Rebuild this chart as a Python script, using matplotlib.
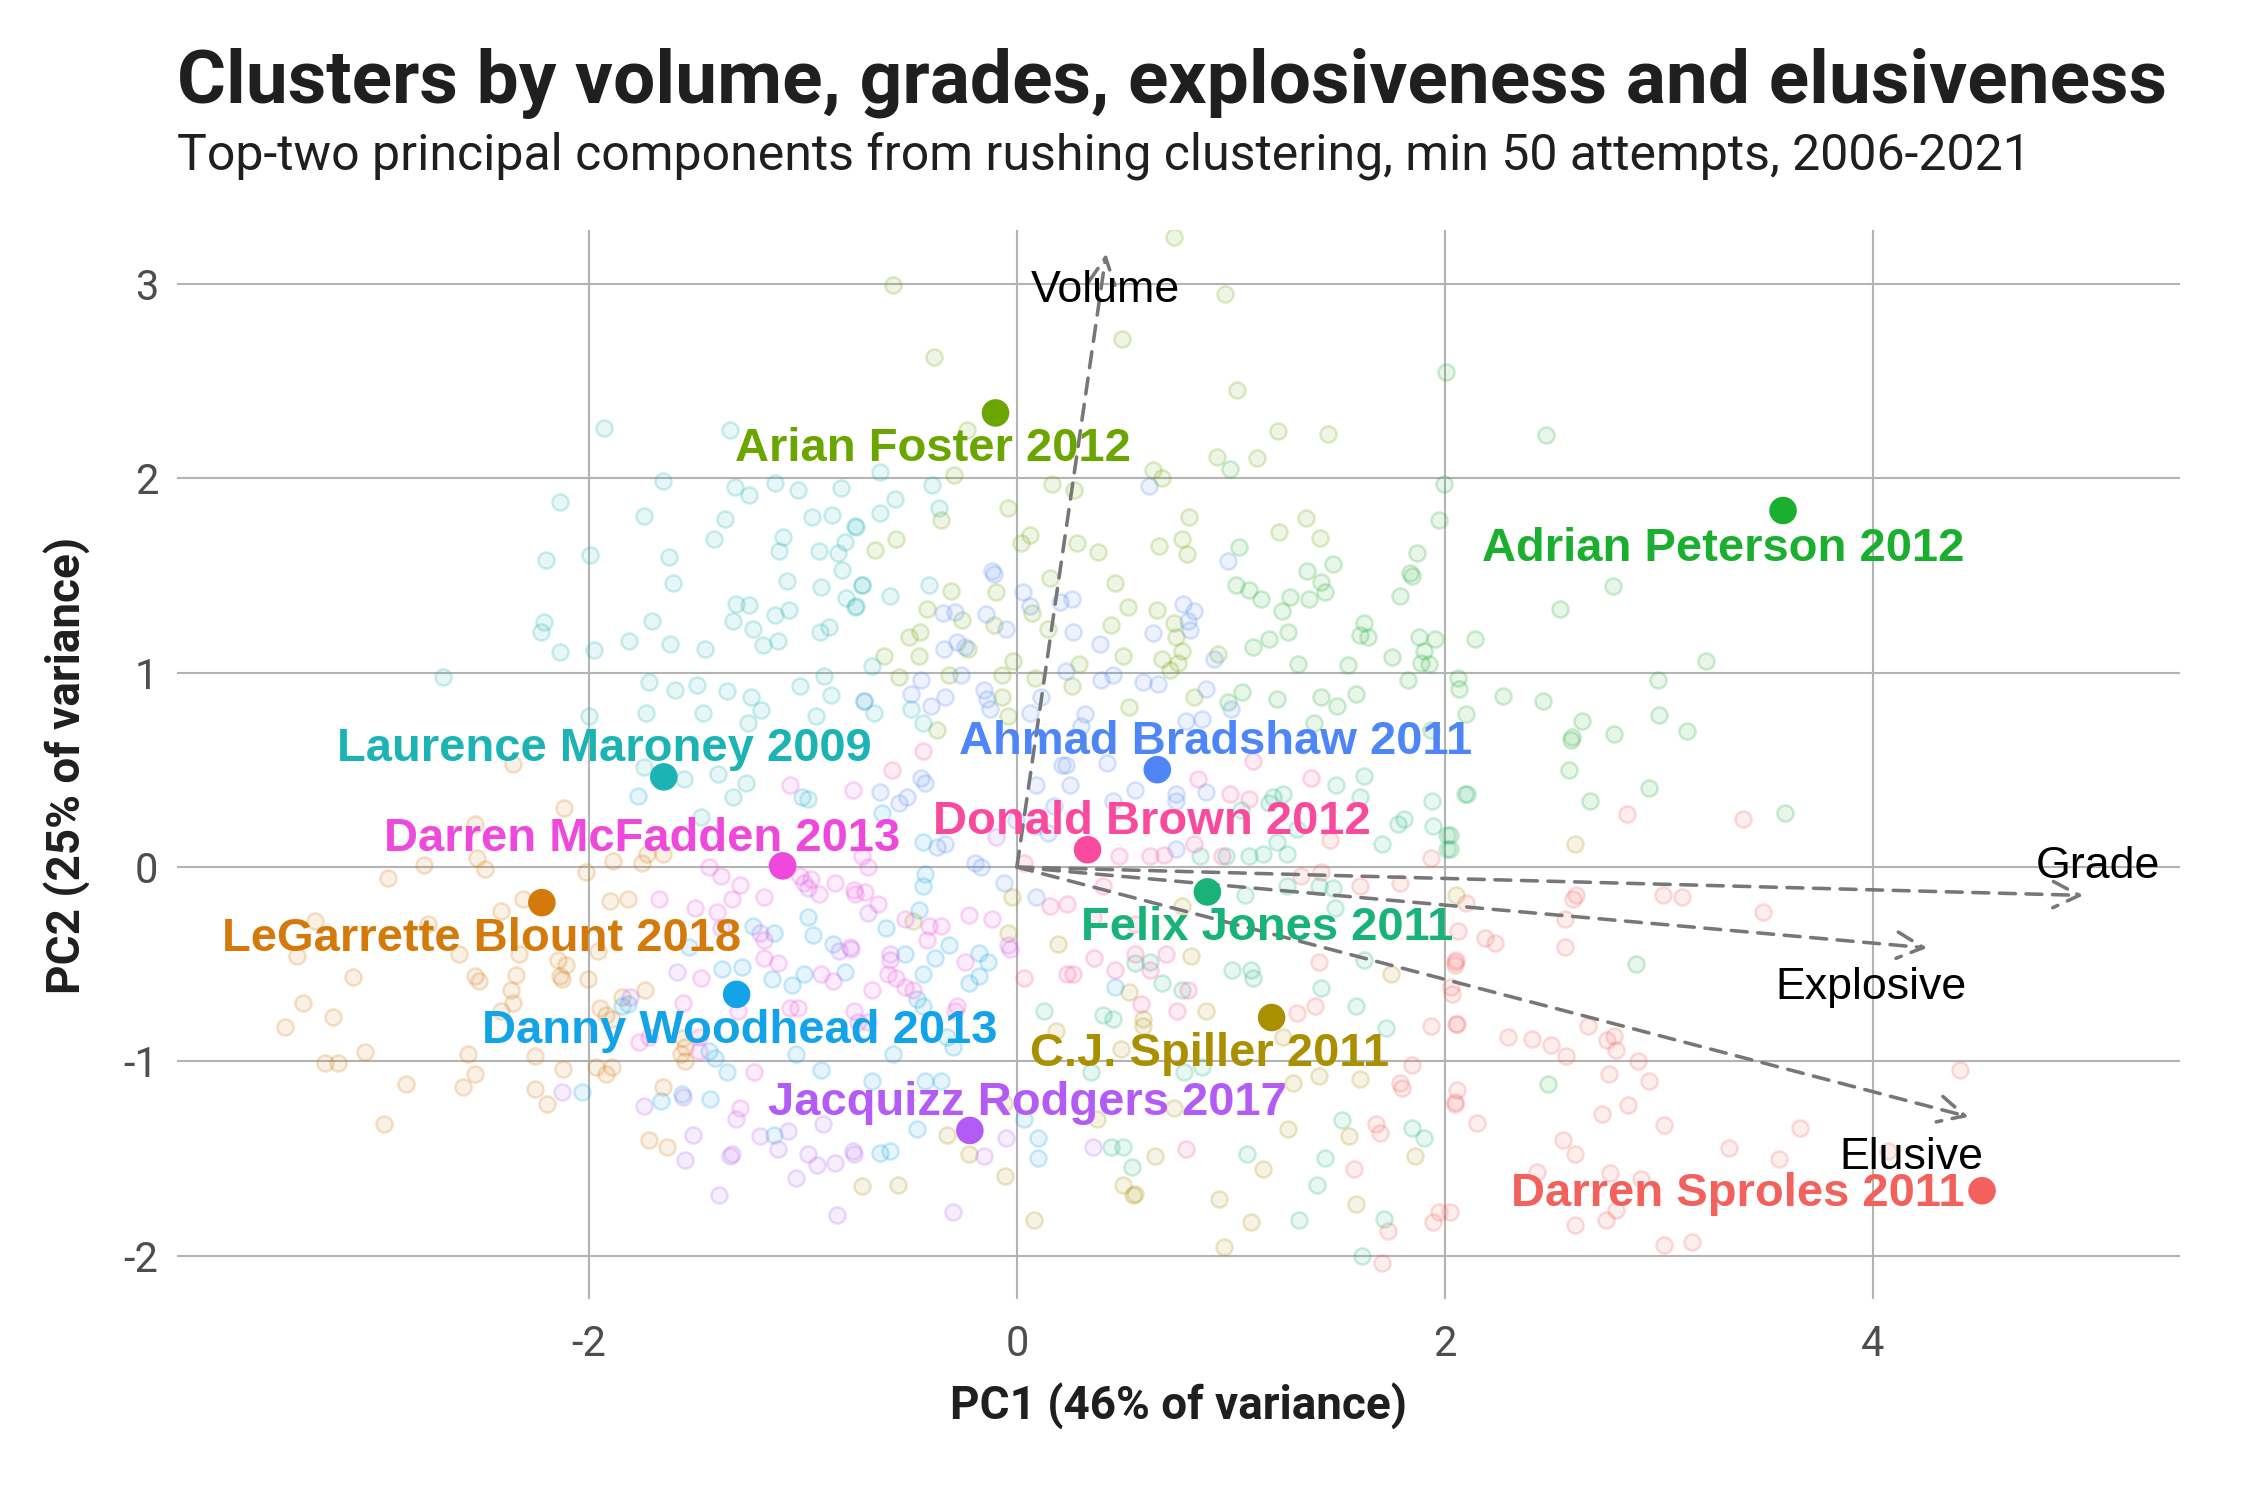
import numpy as np
import matplotlib
matplotlib.use("Agg")
import matplotlib.pyplot as plt
from matplotlib.colors import to_rgba

# ---------------- data ----------------
title = "Clusters by volume, grades, explosiveness and elusiveness"
subtitle = "Top-two principal components from rushing clustering, min 50 attempts, 2006-2021"
xlabel = "PC1 (46% of variance)"
ylabel = "PC2 (25% of variance)"
xticks = [-2, 0, 2, 4]
yticks = [-2, -1, 0, 1, 2, 3]

players = ["Darren Sproles 2011", "LeGarrette Blount 2018", "C.J. Spiller 2011",
           "Arian Foster 2012", "Adrian Peterson 2012", "Felix Jones 2011",
           "Laurence Maroney 2009", "Danny Woodhead 2013", "Ahmad Bradshaw 2011",
           "Jacquizz Rodgers 2017", "Darren McFadden 2013", "Donald Brown 2012"]
player_pc1 = [4.51, -2.22, 1.19, -0.10, 3.58, 0.89, -1.65, -1.31, 0.656, -0.22, -1.095, 0.33]
player_pc2 = [-1.665, -0.183, -0.774, 2.336, 1.834, -0.128, 0.464, -0.655, 0.501, -1.355, 0.006, 0.089]

loadings = ["Volume", "Grade", "Explosive", "Elusive"]
loading_pc1 = [0.417, 4.983, 4.254, 4.448]
loading_pc2 = [3.156, -0.146, -0.416, -1.285]

red_pts = [(2.850,0.273),(3.392,0.245),(2.598,-0.164),(2.614,-0.146),(3.017,-0.142),(3.108,-0.152),
    (3.485,-0.229),(2.100,-0.183),(2.560,-0.266),(2.062,-0.330),(2.188,-0.363),(2.236,-0.390),
    (2.560,-0.409),(2.052,-0.477),(2.046,-0.504),(2.033,-0.655),(2.052,-0.807),(2.294,-0.875),
    (2.407,-0.886),(2.498,-0.914),(2.565,-0.973),(2.668,-0.817),(2.759,-0.890),(2.788,-0.870),
    (2.798,-0.941),(2.900,-1.000),(2.769,-1.065),(2.953,-1.101),(4.405,-1.043),(2.058,-1.147),
    (2.046,-1.211),(2.151,-1.316),(2.854,-1.224),(2.734,-1.272),(3.022,-1.325),(3.660,-1.340),
    (2.552,-1.404),(2.610,-1.478),(3.327,-1.445),(3.563,-1.500),(4.072,-1.460),(2.430,-1.570),
    (2.773,-1.573),(2.918,-1.603),(2.798,-1.763),(2.610,-1.840),(2.751,-1.818),(3.024,-1.943),
    (3.154,-1.928),(2.023,-1.772),(1.937,0.047),(1.419,-0.027),(1.327,-0.045),(1.604,-0.100),
    (1.789,-0.082),(1.410,-0.486),(2.047,-0.486),(2.029,-0.615),(1.937,-0.817),(2.057,-0.808),
    (1.844,-1.019),(1.789,-1.111),(1.798,-1.138),(2.047,-1.221),(1.678,-1.322),(1.696,-1.368),
    (1.576,-1.551),(1.733,-1.873),(1.706,-2.038),(1.974,-1.772),(1.946,-1.827),(1.465,0.139),
    (1.308,-0.752),(1.391,-0.716)]

orange_pts = [(-2.355,0.528),(-2.115,0.304),(-2.534,0.221),(-2.771,0.010),(-2.937,-0.054),(-2.521,0.047),
    (-2.484,-0.008),(-2.013,-0.027),(-1.888,0.032),(-1.754,0.019),(-1.727,0.065),(-1.653,0.065),
    (-2.309,-0.165),(-2.411,-0.225),(-1.902,-0.174),(-1.819,-0.164),(-3.279,-0.275),(-3.362,-0.458),
    (-2.752,-0.293),(-2.605,-0.446),(-2.327,-0.446),(-1.958,-0.431),(-3.104,-0.565),(-2.531,-0.559),
    (-2.516,-0.587),(-2.342,-0.554),(-2.143,-0.477),(-2.106,-0.504),(-2.133,-0.559),(-2.124,-0.574),
    (-2.004,-0.578),(-2.364,-0.633),(-2.355,-0.697),(-2.411,-0.743),(-3.335,-0.697),(-3.196,-0.771),
    (-3.418,-0.822),(-3.048,-0.951),(-3.233,-1.006),(-3.174,-1.006),(-2.854,-1.116),(-2.564,-0.964),
    (-2.531,-1.065),(-2.590,-1.129),(-2.253,-0.973),(-2.253,-1.144),(-2.119,-1.037),(-2.198,-1.221),
    (-2.959,-1.324),(-1.847,-0.670),(-1.948,-0.725),(-1.921,-0.761),(-1.893,-0.780),(-1.736,-0.633),
    (-1.967,-1.028),(-1.921,-1.065),(-1.893,-1.028),(-1.653,-1.129),(-1.718,-1.404),(-1.634,-1.441),
    (-1.551,-0.927),(-1.551,-1.000),(-1.570,-0.964),(-1.560,-0.881)]

olive_pts = [(0.190,-0.394),(0.813,-0.458),(0.772,-0.201),(0.523,-0.642),(0.883,-0.743),(0.588,-0.780),
    (0.588,-0.817),(0.181,-0.844),(0.486,-0.936),(1.244,-0.872),(1.290,-1.111),(1.410,-1.074),
    (1.554,-1.386),(1.268,-1.349),(1.151,-1.551),(1.859,-1.487),(1.604,-1.092),(1.746,-0.550),
    (0.647,-1.487),(0.495,-1.634),(0.541,-1.689),(0.551,-1.680),(0.944,-1.708),(1.096,-1.827),
    (1.585,-1.735),(0.966,-1.956),(0.079,-1.818),(-0.054,-1.588),(-0.558,-1.634),(-0.226,-1.478),
    (-0.327,-1.377),(-0.059,-1.212),(0.375,-1.294),(0.735,-1.239),(-0.041,-0.339),(-0.484,-0.275),
    (-0.022,-0.155),(2.608,0.120),(2.052,-0.146),(-0.725,-1.640)]

yg_pts = [(-0.580,2.995),(-0.386,2.625),(-0.235,2.247),(0.735,3.243),(0.491,2.717),(0.972,2.947),
    (1.027,2.454),(1.221,2.244),(1.452,2.229),(0.933,2.111),(1.122,2.105),(-0.294,2.017),(0.162,1.969),
    (0.268,1.941),(0.637,2.043),(0.680,2.003),(-0.041,1.848),(-0.353,1.786),(-0.564,1.685),(-0.665,1.632),
    (0.061,1.710),(0.020,1.668),(0.283,1.668),(0.377,1.623),(0.663,1.652),(0.772,1.685),(0.796,1.609),
    (0.804,1.801),(1.225,1.724),(1.349,1.793),(1.415,1.692),(-0.309,1.420),(-0.420,1.326),(-0.257,1.272),
    (-0.096,1.414),(-0.105,1.246),(0.070,1.308),(0.153,1.485),(0.460,1.459),(0.519,1.338),(0.440,1.246),
    (0.144,1.225),(0.654,1.320),(0.745,1.184),(0.772,1.113),(0.735,1.255),(-0.503,1.184),(-0.451,1.210),
    (-0.623,1.086),(-0.457,1.086),(-0.231,1.122),(-0.549,0.980),(-0.318,0.989),(-0.019,1.060),(0.288,1.042),
    (0.495,1.086),(0.680,1.069),(0.754,1.051),(0.717,1.016),(-0.072,0.987),(0.085,0.971),(0.255,0.932),
    (0.523,0.821),(0.828,0.874),(0.939,1.095),(-0.373,0.705),(-0.069,0.874),(-0.041,0.776)]

green_pts = [(2.005,2.548),(1.994,1.972),(1.973,1.786),(1.040,1.648),(1.870,1.618),(1.475,1.561),
    (1.354,1.521),(1.835,1.512),(1.844,1.497),(1.022,1.450),(1.086,1.423),(1.142,1.379),(1.419,1.467),
    (1.438,1.414),(1.367,1.379),(1.275,1.388),(1.238,1.317),(1.792,1.396),(1.622,1.255),(1.604,1.193),
    (1.641,1.184),(1.266,1.210),(1.179,1.175),(1.105,1.131),(1.881,1.184),(1.955,1.175),(1.900,1.113),
    (1.890,1.051),(1.927,1.042),(1.752,1.078),(1.545,1.037),(1.312,1.047),(1.826,0.962),(2.062,0.971),
    (2.066,0.918),(1.053,0.900),(1.216,0.865),(1.423,0.874),(1.497,0.829),(1.585,0.891),(0.985,0.847),
    (1.386,0.741),(1.937,0.705),(2.470,2.220),(2.786,1.444),(2.538,1.326),(2.141,1.171),(3.218,1.060),
    (2.273,0.879),(2.457,0.853),(2.997,0.962),(2.100,0.785),(2.639,0.750),(3.001,0.782),(2.592,0.670),
    (2.790,0.684),(3.131,0.702),(2.591,0.653),(2.579,0.497),(2.104,0.374),(2.678,0.341),(2.953,0.409),
    (3.588,0.280),(2.023,0.166),(2.023,0.093),(2.893,-0.501),(2.480,-1.114),(0.994,2.047)]

tealgreen_pts = [(1.493,0.423),(1.622,0.469),(1.604,0.359),(1.706,0.120),(1.779,0.221),(1.807,0.249),
    (1.946,0.212),(2.010,0.166),(2.010,0.093),(2.094,0.377),(1.940,0.341),(1.308,0.194),(1.216,0.129),
    (1.262,0.065),(1.151,0.065),(1.086,0.056),(1.179,0.331),(1.198,0.358),(1.244,0.377),(1.049,0.295),
    (0.856,0.056),(0.976,0.056),(1.410,-0.100),(1.475,-0.109),(1.262,-0.100),(1.068,-0.146),(1.484,-0.210),
    (1.622,-0.477),(1.003,-0.532),(1.096,-0.532),(1.105,-0.569),(0.551,-0.495),(0.624,-0.486),(0.680,-0.596),
    (0.772,-0.633),(0.449,-0.780),(0.403,-0.761),(0.126,-0.743),(1.419,-0.624),(1.585,-0.716),(1.724,-0.826),
    (1.521,-1.303),(1.844,-1.340),(1.900,-1.395),(1.077,-1.478),(1.438,-1.496),(1.401,-1.634),(1.317,-1.818),
    (1.613,-2.001),(1.715,-1.809),(0.538,-1.542),(0.440,-1.441),(0.495,-1.441),(0.347,-1.055),(0.782,-1.055),
    (0.865,-1.028)]

teal_pts = [(-1.930,2.256),(-1.339,2.247),(-1.653,1.987),(-1.317,1.955),(-1.252,1.916),(-1.132,1.978),
    (-1.025,1.937),(-0.821,1.951),(-2.137,1.878),(-1.745,1.804),(-1.363,1.790),(-0.958,1.799),(-0.866,1.809),
    (-0.758,1.753),(-1.416,1.689),(-1.093,1.698),(-1.110,1.627),(-0.927,1.627),(-0.803,1.671),(-0.834,1.613),
    (-2.200,1.579),(-1.997,1.604),(-1.627,1.597),(-0.819,1.529),(-1.607,1.460),(-1.074,1.473),(-0.914,1.441),
    (-0.725,1.450),(-0.797,1.386),(-0.757,1.340),(-1.313,1.352),(-1.250,1.347),(-1.132,1.299),(-1.067,1.320),
    (-2.209,1.262),(-2.226,1.210),(-1.703,1.267),(-1.326,1.267),(-1.235,1.225),(-0.880,1.237),(-0.921,1.207),
    (-2.133,1.104),(-1.978,1.115),(-1.814,1.163),(-1.623,1.145),(-1.459,1.122),(-1.187,1.140),(-1.117,1.163),
    (-2.680,0.976),(-1.718,0.954),(-1.596,0.913),(-1.496,0.936),(-1.353,0.906),(-1.241,0.877),(-1.196,0.806),
    (-1.015,0.930),(-0.903,0.985),(-0.871,0.886),(-1.732,0.794),(-1.466,0.794),(-0.941,0.776),(-2.002,0.776),
    (-1.259,0.741),(-1.745,0.515),(-1.557,0.455),(-1.398,0.478),(-1.326,0.359),(-1.265,0.433),(-0.978,0.350),
    (-1.477,0.258),(-0.641,2.034),(-0.571,1.893),(-0.638,1.822),(-0.752,1.751),(-0.397,1.964),(-0.364,1.848),
    (-0.725,1.450),(-0.595,1.396),(-0.410,1.450),(-0.752,1.343),(-0.678,1.033),(-0.715,0.856),(-0.669,0.794),
    (-0.494,0.812),(-0.438,0.741)]

sky_pts = [(-1.769,0.368),(-1.233,-0.302),(-1.135,-0.339),(-0.951,-0.348),(-0.978,-0.256),(-1.376,-0.523),
    (-1.283,-0.513),(-1.145,-0.578),(-1.052,-0.605),(-0.997,-0.550),(-0.858,-0.394),(-0.803,-0.541),
    (-1.847,-0.716),(-1.819,-0.706),(-1.533,-0.412),(-1.440,-0.945),(-1.413,-0.982),(-1.357,-1.055),
    (-1.034,-0.964),(-0.914,-1.046),(-2.032,-1.156),(-1.662,-1.202),(-1.566,-1.166),(-1.436,-1.193),
    (-1.135,-1.377),(-1.006,0.359),(-0.632,0.276),(-0.438,0.130),(-0.429,-0.036),(-0.438,-0.100),
    (-0.457,-0.220),(-0.614,-0.311),(-0.318,-0.403),(-0.383,-0.468),(-0.521,-0.449),(-0.179,-0.440),
    (-0.133,-0.486),(-0.438,-0.550),(-0.226,-0.596),(-0.179,-0.559),(-0.466,-0.679),(-0.438,-0.716),
    (-0.300,-0.927),(-0.577,-0.964),(-0.327,-0.872),(-0.678,-1.101),(-0.429,-1.101),(-0.355,-1.101),
    (-0.466,-1.349),(-0.641,-1.469),(-0.595,-1.460),(0.098,-1.395),(0.098,-1.496),(0.033,-1.294),
    (0.458,-0.615)]

blue_pts = [(0.619,1.960),(0.985,1.574),(-0.115,1.521),(-0.105,1.507),(0.028,1.414),(0.255,1.379),
    (0.199,1.361),(0.061,1.343),(-0.346,1.308),(-0.290,1.313),(-0.146,1.303),(-0.050,1.223),(0.264,1.210),
    (0.634,1.202),(0.390,1.145),(-0.281,1.158),(-0.244,1.131),(-0.340,1.122),(0.778,1.352),(0.828,1.317),
    (0.800,1.264),(0.809,1.219),(0.920,1.069),(0.231,1.007),(0.395,0.962),(0.449,0.989),(0.588,0.953),
    (0.661,0.944),(0.883,0.918),(-0.447,0.962),(-0.494,0.892),(-0.401,0.830),(-0.336,0.874),(-0.263,0.989),
    (-0.152,0.909),(-0.142,0.865),(-0.124,0.812),(0.111,0.874),(0.061,0.794),(0.320,0.785),(0.301,0.723),
    (0.791,0.750),(0.865,0.759),(0.999,0.812),(0.209,0.524),(0.227,0.524),(0.421,0.534),(0.246,0.423),
    (0.089,0.423),(0.172,0.313),(0.449,0.341),(0.551,0.396),(0.745,0.377),(0.741,0.341),(0.883,0.386),
    (0.745,0.093),(0.089,0.212),(0.144,0.175),(-0.004,0.240),(-0.198,0.019),(-0.170,0.001),(-0.447,0.460),
    (-0.429,0.433),(-0.512,0.359),(-0.549,0.331),(-0.641,0.387),(-0.336,0.120),(-0.373,0.102),
    (0.089,-0.155),(-0.059,-0.082),(-0.716,0.856)]

purple_pts = [(-2.124,-1.156),(-1.745,-1.230),(-1.514,-1.377),(-1.551,-1.505),(-1.339,-1.487),(-1.330,-1.478),
    (-1.394,-1.689),(-1.200,-1.386),(-1.117,-1.450),(-0.978,-1.478),(-0.932,-1.533),(-0.849,-1.524),
    (-1.034,-1.597),(-0.840,-1.790),(-0.766,-1.460),(-1.588,-0.541),(-1.385,-0.311),(-1.200,-0.339),
    (-0.831,-0.431),(-0.775,-0.422),(-1.560,-1.184),(-0.904,-1.322),(-1.311,-1.294),(-1.071,-1.358),
    (-1.810,-0.670),(-0.978,-0.109),(-0.762,-1.478),(-0.300,-1.772),(-0.152,-1.487),(0.357,-1.441),
    (-0.041,-0.403),(-0.096,0.157),(-0.595,-0.449),(-0.697,-0.238),(-0.050,-1.395),(-0.743,-0.798),
    (-0.697,-0.798)]

magenta_pts = [(-1.671,-0.165),(-1.505,-0.210),(-1.403,-0.229),(-1.330,-0.165),(-1.182,-0.155),(-0.997,-0.082),
    (-0.923,-0.137),(-0.757,-0.137),(-0.710,-0.128),(-1.440,0.001),(-1.385,-0.045),(-1.293,-0.091),
    (-1.015,-0.045),(-0.960,-0.064),(-0.766,0.396),(-1.061,0.423),(-0.849,-0.082),(-1.182,-0.376),
    (-1.182,-0.468),(-1.117,-0.495),(-0.914,-0.550),(-0.858,-0.587),(-1.477,-0.569),(-1.560,-0.697),
    (-1.302,-0.743),(-1.718,-0.872),(-1.764,-0.899),(-1.487,-0.872),(-1.487,-0.945),(-1.228,-1.055),
    (-1.293,-1.239),(-1.025,-0.725),(-1.061,-0.725),(-0.725,0.056),(-0.697,0.001),(-0.762,-0.119),
    (-0.651,-0.192),(-0.521,-0.266),(-0.410,-0.302),(-0.355,-0.302),(-0.226,-0.247),(-0.115,-0.266),
    (-0.420,-0.376),(-0.595,-0.477),(-0.604,-0.550),(-0.567,-0.569),(-0.244,-0.486),(-0.032,-0.422),
    (-0.678,-0.633),(-0.521,-0.615),(-0.484,-0.633),(-0.281,-0.716),(-0.290,-0.743),(-0.762,-0.743),
    (-0.780,-0.412)]

pink_pts = [(-0.586,0.497),(-0.438,0.598),(1.373,0.460),(1.105,0.543),(0.846,0.451),(0.994,0.377),
    (1.086,0.350),(0.828,0.120),(0.477,0.056),(0.624,0.056),(0.689,0.062),(0.957,0.056),(0.403,-0.100),
    (0.236,-0.192),(0.153,-0.201),(0.357,-0.256),(0.550,-0.293),(0.362,-0.468),(0.550,-0.449),
    (0.698,-0.449),(0.033,-0.569),(0.236,-0.550),(0.264,-0.550),(0.458,-0.532),(0.624,-0.532),
    (0.800,-0.633),(0.578,-0.706),(0.750,-0.743),(0.791,-1.450),(0.033,0.019)]

# cluster order matches players
cluster_points = [red_pts, orange_pts, olive_pts, yg_pts, green_pts, tealgreen_pts,
                  teal_pts, sky_pts, blue_pts, purple_pts, magenta_pts, pink_pts]

# ---------------- style ----------------
colors = ["#F2615B", "#D47A0B", "#AA9000", "#6BA500", "#1AAF2E", "#19B37A",
          "#1BB3B3", "#12A3E8", "#4F86F7", "#B35CF5", "#EE48DC", "#FA4A9E"]

label_pos = [(3.368, -1.744), (-2.503, -0.430), (0.901, -1.022), (-0.394, 2.088),
             (3.300, 1.574), (1.170, -0.376), (-1.930, 0.543), (-1.294, -0.906),
             (0.930, 0.582), (0.050, -1.276), (-1.753, 0.085), (0.631, 0.172)]
loading_label_pos = [(0.414, 2.906), (5.05, -0.054), (3.99, -0.679), (4.18, -1.551)]

W, H = 2250, 1500
fig = plt.figure(figsize=(15, 10), dpi=150)
ax = fig.add_axes([177 / W, 1 - 1299 / H, (2180 - 177) / W, (1299 - 230) / H])
ax.set_xlim(-3.925, 5.435)
ax.set_ylim(-2.222, 3.277)
for s in ax.spines.values():
    s.set_visible(False)
ax.set_xticks(xticks)
ax.set_yticks(yticks)
ax.set_xticklabels([str(t) for t in xticks])
ax.set_yticklabels([str(t) for t in yticks])
ax.tick_params(length=0, labelsize=20, labelcolor="#4D4D4D")
ax.tick_params(axis="x", pad=12)
ax.tick_params(axis="y", pad=9)
for lab in ax.get_xticklabels() + ax.get_yticklabels():
    lab.set_fontfamily("Roboto")
ax.grid(True, color="#B3B3B3", linewidth=1.0)
ax.set_axisbelow(True)

for pts, c in zip(cluster_points, colors):
    arr = np.array(pts)
    ax.scatter(arr[:, 0], arr[:, 1], s=60, facecolor=to_rgba(c, 0.10),
               edgecolor=to_rgba(c, 0.22), linewidth=1.2, zorder=2)

for name, lx, ly, (tx, ty) in zip(loadings, loading_pc1, loading_pc2, loading_label_pos):
    ax.annotate("", xy=(lx, ly), xytext=(0, 0),
                arrowprops=dict(arrowstyle="->,head_length=0.9,head_width=0.45",
                                color="#777777", lw=1.7, linestyle=(0, (4.5, 3)),
                                shrinkA=0, shrinkB=0, mutation_scale=14),
                zorder=3)
    ax.text(tx, ty, name, ha="center", va="baseline", fontsize=21.5,
            family="Liberation Sans", color="black", zorder=5)

ax.scatter(player_pc1, player_pc2, s=175, c=colors, linewidths=0, zorder=6)
for name, (tx, ty), c in zip(players, label_pos, colors):
    ax.text(tx, ty, name, ha="center", va="baseline", fontsize=22.6, fontweight="bold",
            family="Liberation Sans", color=c, zorder=5)

fig.text(177 / W, 1 - 103 / H, title, fontsize=36, fontweight="bold", family="Roboto",
         color="#1F1F1F", ha="left", va="baseline")
fig.text(177 / W, 1 - 170 / H, subtitle, fontsize=24, family="Roboto",
         color="#1F1F1F", ha="left", va="baseline")
fig.text((177 + 2180) / 2 / W, 1 - 1406 / H, xlabel, fontsize=22, fontweight="bold",
         family="Roboto", color="#1F1F1F", ha="center", va="center")
fig.text(67 / W, 1 - 765 / H, ylabel, fontsize=22, fontweight="bold", rotation=90,
         family="Roboto", color="#1F1F1F", ha="center", va="center")

fig.savefig("out.png", dpi=150)
